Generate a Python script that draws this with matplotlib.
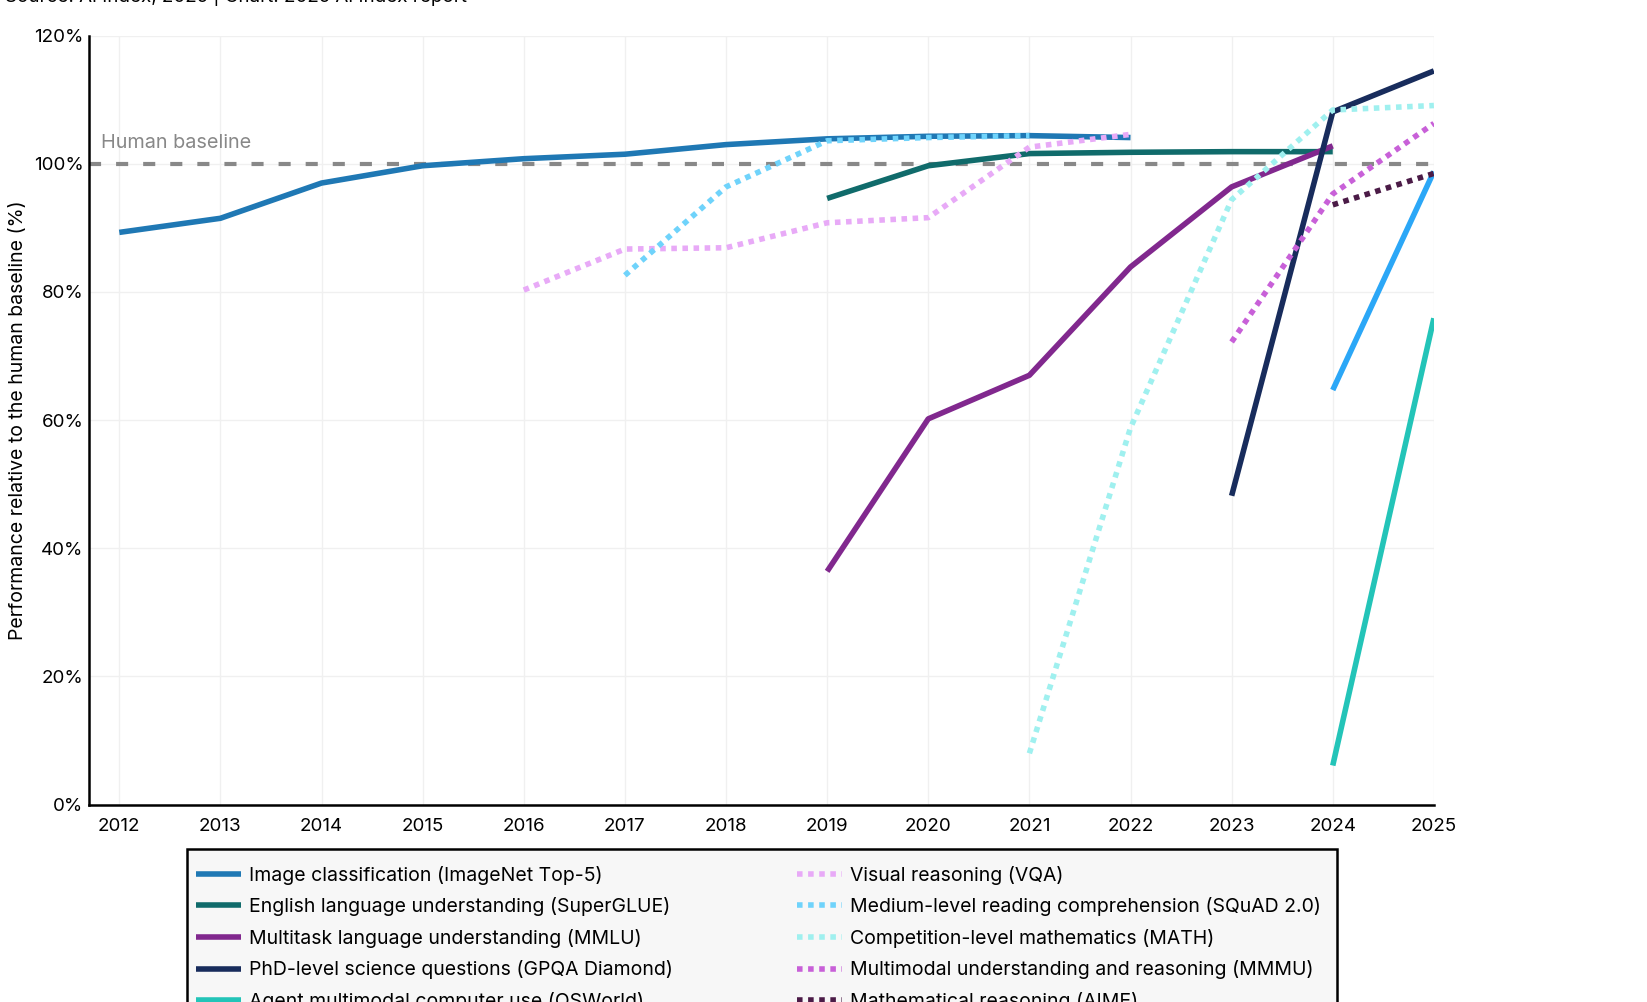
import matplotlib
matplotlib.use("Agg")
from matplotlib import pyplot as plt
from matplotlib.patches import Rectangle
from matplotlib.ticker import FuncFormatter

plt.rcParams["font.family"] = ["Inter", "DejaVu Sans"]

# Solid series
imagenet_years = [2012, 2013, 2014, 2015, 2016, 2017, 2018, 2019, 2020, 2021, 2022]
imagenet_vals = [89.3, 91.5, 97.0, 99.7, 100.8, 101.5, 103.0, 103.9, 104.3, 104.4, 104.1]

superglue_years = [2019, 2020, 2021, 2022, 2023, 2024]
superglue_vals = [94.6, 99.7, 101.6, 101.8, 101.9, 101.9]

mmlu_years = [2019, 2020, 2021, 2022, 2023, 2024]
mmlu_vals = [36.4, 60.2, 67.0, 83.9, 96.4, 102.8]

gpqa_years = [2023, 2024, 2025]
gpqa_vals = [48.2, 108.1, 114.5]

osworld_years = [2024, 2025]
osworld_vals = [6.1, 75.9]

swebench_years = [2024, 2025]
swebench_vals = [64.7, 98.8]

# Dotted series
vqa_years = [2016, 2017, 2018, 2019, 2020, 2021, 2022]
vqa_vals = [80.3, 86.7, 86.9, 90.8, 91.6, 102.6, 104.6]

squad_years = [2017, 2018, 2019, 2020, 2021]
squad_vals = [82.6, 96.4, 103.6, 104.1, 104.4]

math_years = [2021, 2022, 2023, 2024, 2025]
math_vals = [8.0, 58.8, 94.4, 108.4, 109.1]

mmmu_years = [2023, 2024, 2025]
mmmu_vals = [72.2, 95.3, 106.3]

aime_years = [2024, 2025]
aime_vals = [93.6, 98.5]

year_ticks = list(range(2012, 2026))
pct_ticks = [0, 20, 40, 60, 80, 100, 120]

solid = [
    ("Image classification (ImageNet Top-5)", imagenet_years, imagenet_vals, "#1f78b4"),
    ("English language understanding (SuperGLUE)", superglue_years, superglue_vals, "#106b6b"),
    ("Multitask language understanding (MMLU)", mmlu_years, mmlu_vals, "#81288e"),
    ("PhD-level science questions (GPQA Diamond)", gpqa_years, gpqa_vals, "#182c5c"),
    ("Agent multimodal computer use (OSWorld)", osworld_years, osworld_vals, "#23c4b8"),
    ("Competition-level coding (SWE-bench Verified)", swebench_years, swebench_vals, "#2ba7f7"),
]
dotted = [
    ("Visual reasoning (VQA)", vqa_years, vqa_vals, "#e8aaf7"),
    ("Medium-level reading comprehension (SQuAD 2.0)", squad_years, squad_vals, "#6fd3fb"),
    ("Competition-level mathematics (MATH)", math_years, math_vals, "#9ff0ef"),
    ("Multimodal understanding and reasoning (MMMU)", mmmu_years, mmmu_vals, "#c860d8"),
    ("Mathematical reasoning (AIME)", aime_years, aime_vals, "#4b1b47"),
]

fig = plt.figure(figsize=(16.47, 10.02), dpi=100)
ax = fig.add_axes([0.054, 0.197, 0.8166, 0.7674])

# Human baseline
ax.axhline(100, color="#888888", lw=3, linestyle=(0, (2.9, 3.6)), zorder=2)
ax.text(2011.82, 101.8, "Human baseline", color="#888888", fontsize=14.3, va="bottom", ha="left")

handles = []
for label, xs, ys, color in solid:
    line, = ax.plot(xs, ys, color=color, lw=4, label=label, solid_capstyle="butt", zorder=3)
    handles.append(line)
for label, xs, ys, color in dotted:
    line, = ax.plot(xs, ys, color=color, lw=4, linestyle=(0, (1, 1)), label=label,
                    dash_capstyle="butt", zorder=4)
    handles.append(line)

ax.set_xlim(2011.7, 2025)
ax.set_ylim(0, 120)
ax.set_xticks(year_ticks)
ax.set_yticks(pct_ticks)
ax.yaxis.set_major_formatter(FuncFormatter(lambda v, p: f"{v:.0f}%"))
ax.tick_params(length=0, labelsize=13.5)
ax.tick_params(axis="y", pad=4)
ax.tick_params(axis="x", pad=10)
ax.grid(True, color="#f0f0f0", lw=1)
ax.set_axisbelow(True)
for side in ["top", "right"]:
    ax.spines[side].set_visible(False)
for side in ["left", "bottom"]:
    ax.spines[side].set_linewidth(1.8)
ax.set_ylabel("Performance relative to the human baseline (%)", fontsize=14, labelpad=5)

fig.text(0.003, 0.994, "Source: AI Index, 2025 | Chart: 2025 AI Index report", fontsize=13.5,
         va="bottom", ha="left")

# Legend box (runs off the bottom of the figure like the original)
box = Rectangle((0.1135, -0.2), 0.6984, 0.1527 + 0.2, transform=fig.transFigure,
                facecolor="#f7f7f7", edgecolor="black", lw=1.8, zorder=1)
fig.add_artist(box)

leg = fig.legend(handles=handles, loc="upper left", bbox_to_anchor=(0.1135, 0.1455), ncol=2,
                 fontsize=14, frameon=False, borderaxespad=0, borderpad=0.48,
                 handlelength=2.3, handletextpad=0.43, columnspacing=5.6, labelspacing=0.65)
leg.set_zorder(2)

plt.savefig("out.png", dpi=100)
